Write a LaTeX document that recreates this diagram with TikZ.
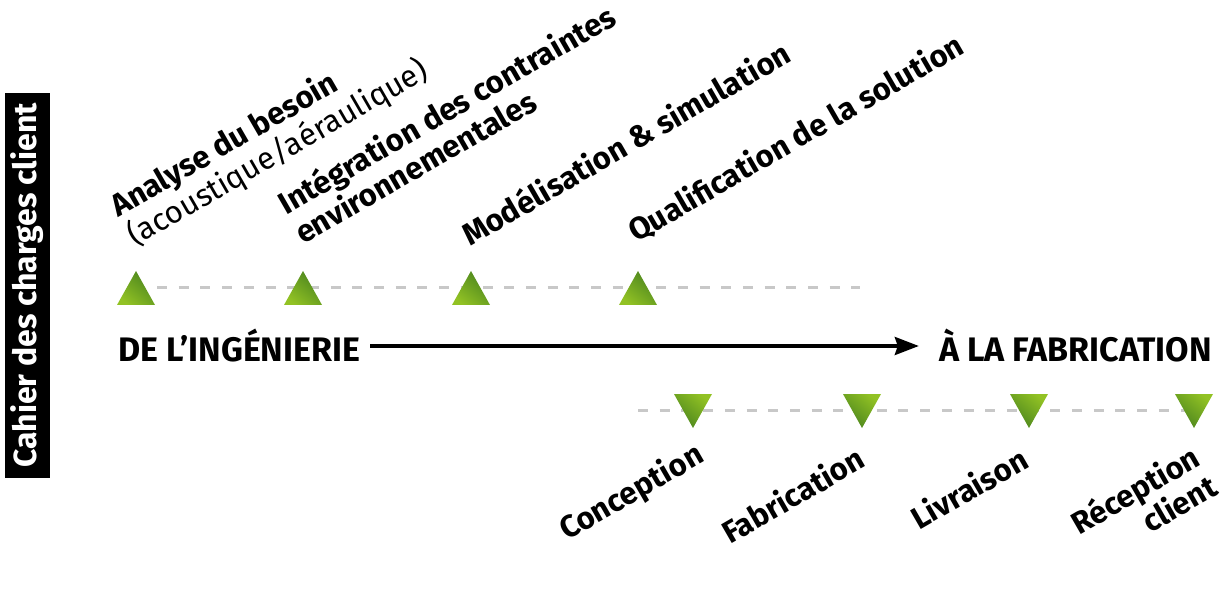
\documentclass[tikz,border=0pt]{standalone}
\usepackage{fontspec}
\setmainfont{Fira Sans}
\usetikzlibrary{arrows.meta}
\definecolor{gdark}{RGB}{74,132,30}
\definecolor{glight}{RGB}{146,194,36}
\definecolor{dashgray}{RGB}{200,200,200}
\tikzset{
  lbl/.style={rotate=30, inner sep=0pt, font=\bfseries\fontsize{31}{34}\selectfont},
  caps/.style={inner sep=0pt, font=\bfseries\fontsize{34}{36}\selectfont},
  dashline/.style={draw=dashgray, line width=3pt, dash pattern=on 10pt off 11.7pt},
  uptri/.style={shading=axis, top color=gdark, bottom color=glight, shading angle=-40},
  dntri/.style={shading=axis, top color=glight, bottom color=gdark, shading angle=-40},
}
\begin{document}
\begin{tikzpicture}[x=1pt,y=-1pt]
\useasboundingbox (0,0) rectangle (1227,596);
% vertical label
\node[fill=black, text=white, rotate=90, minimum width=385pt, minimum height=45pt, inner sep=0pt,
      font=\bfseries\fontsize{32}{34}\selectfont] (cdc) at (27.5,285.5) {Cahier des charges client};
% dashed guide lines
\coordinate (u1) at (157,288); \coordinate (u2) at (860,288);
\coordinate (l1) at (638,410); \coordinate (l2) at (1194,410);
\draw[dashline] (u1) -- (u2);
\draw[dashline] (l1) -- (l2);
% up triangles
\foreach \x in {136,303,471,638}{
  \path[uptri] (\x-19,305) -- (\x,271) -- (\x+19,305) -- cycle;
}
% down triangles
\foreach \x in {693,862,1029,1194}{
  \path[dntri] (\x-19,394) -- (\x+19,394) -- (\x,428) -- cycle;
}
% main axis
\node[caps, anchor=west] (ing) at (118,346) {DE L’INGÉNIERIE};
\node[caps, anchor=east] (fab) at (1212,346) {À LA FABRICATION};
\draw[line width=3.5pt, -{Stealth[length=24pt,width=18pt,inset=3pt]}, shorten <=10pt, shorten >=20pt] (ing.east) -- (fab.west);
% upper labels
\node[lbl, align=left, anchor=base west] (a) at (135,247) {Analyse du besoin\\\mdseries(acoustique/aéraulique)};
\node[lbl, align=left, anchor=base west] (b) at (303,245) {Intégration des contraintes\\environnementales};
\node[lbl, anchor=base west] (c) at (470,247) {Modélisation \& simulation};
\node[lbl, anchor=base west] (d) at (636,243) {Qualification de la solution};
% lower labels
\node[lbl, anchor=base west] (e) at (567,541) {Conception};
\node[lbl, anchor=base west] (f) at (730,545) {Fabrication};
\node[lbl, anchor=base west] (g) at (919,531) {Livraison};
\node[lbl, align=right, anchor=base west] (h) at (1096,565) {Réception\\client};
\end{tikzpicture}
\end{document}
